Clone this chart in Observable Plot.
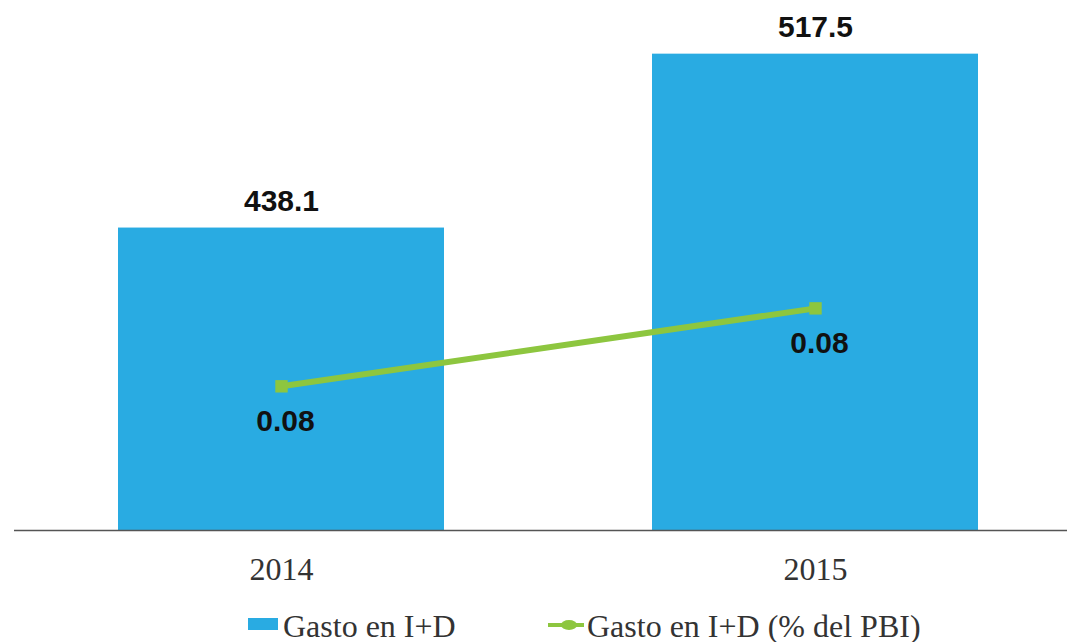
<!DOCTYPE html>
<html>
<head>
<meta charset="utf-8">
<script src="https://cdn.jsdelivr.net/npm/d3@7"></script>
<script src="https://cdn.jsdelivr.net/npm/@observablehq/plot@0.6"></script>
<style>
  body { margin: 0; background: #fff; }
  #chart svg { display: block; }
  .legend { position: relative; width: 1067px; height: 32px; overflow: visible;
    font-family: "Liberation Serif", "Times New Roman", serif; font-size: 32px; color: #333; }
  .legend > * { position: absolute; }
  .txt { top: 0; line-height: 32px; white-space: nowrap; }
  .sw-bar { left: 248px; top: 8px; width: 30px; height: 12px; background: #29abe2; }
  .sw-line { left: 548px; top: 13px; width: 36px; height: 4px; background: #8dc63f; }
  .sw-dot { left: 561px; top: 10px; width: 16px; height: 10px; border-radius: 50%; background: #8dc63f; }
</style>
</head>
<body>
<div id="chart"></div>
<div class="legend">
  <span class="sw-bar"></span><span class="txt" style="left:283px">Gasto en I+D</span>
  <span class="sw-line"></span><span class="sw-dot"></span><span class="txt" style="left:587px">Gasto en I+D (% del PBI)</span>
</div>
<script>
const years = ["2014", "2015"];
const gasto = [438.1, 517.5];
const gastoPBI = [0.077, 0.083];
const pbiLabels = ["0.08", "0.08"];

const yDomain = [300, 542];
const y2Domain = [0.0659, 0.1067];
const y2 = d3.scaleLinear().domain(y2Domain).range(yDomain);

const bars = years.map((yr, i) => ({year: yr, value: gasto[i]}));
const line = years.map((yr, i) => ({year: yr, value: y2(gastoPBI[i]), label: pbiLabels[i]}));

const sans = "'Liberation Sans', Arial, Helvetica, sans-serif";
const blue = "#29abe2";
const green = "#8dc63f";

const chart = Plot.plot({
  width: 1067,
  height: 610,
  marginLeft: 14,
  marginRight: 0,
  marginTop: 0,
  marginBottom: 80,
  x: {domain: years, range: [14, 1082], paddingInner: 0.39, paddingOuter: 0.195, label: null},
  y: {domain: yDomain, range: [530, 0], axis: null},
  marks: [
    Plot.barY(bars, {x: "year", y1: yDomain[0], y2: "value", fill: blue}),
    Plot.ruleY([yDomain[0]], {stroke: "#555", strokeWidth: 1.5}),
    Plot.text(bars, {x: "year", y: "value", text: d => d.value.toFixed(1), dy: -27,
      fontSize: 30, fontWeight: "bold", fontFamily: sans, fill: "#111"}),
    Plot.line(line, {x: "year", y: "value", stroke: green, strokeWidth: 6}),
    Plot.dot(line, {x: "year", y: "value", symbol: "square", r: 7, fill: green}),
    Plot.text(line, {x: "year", y: "value", text: "label", dy: 35, dx: 4,
      fontSize: 30, fontWeight: "bold", fontFamily: sans, fill: "#111"}),
    Plot.axisX({tickSize: 0, tickPadding: 27, fontSize: 32, fontFamily: "'Liberation Serif', 'Times New Roman', serif", fill: "#333", label: null})
  ]
});
document.getElementById("chart").append(chart);
</script>
</body>
</html>
